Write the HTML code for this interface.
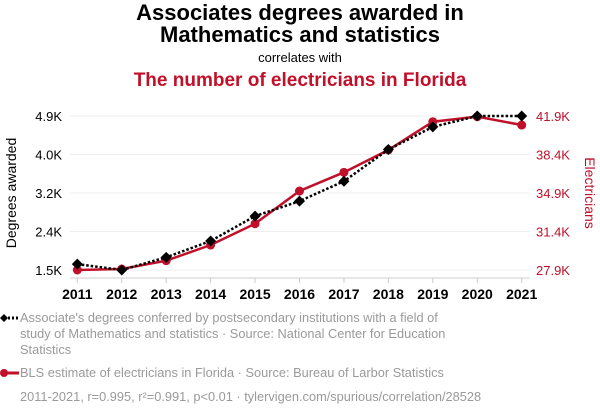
<!DOCTYPE html>
<html><head><meta charset="utf-8"><style>
body{margin:0;width:600px;height:414px;background:#fff;font-family:"Liberation Sans",sans-serif;overflow:hidden;position:relative}
.t{position:absolute;left:0;width:600px;text-align:center}
.leg{position:absolute;left:20px;width:450px;color:#9a9a9a;font-size:12.8px;line-height:16px}
</style></head><body>
<div class="t" style="top:2px;font-size:22px;font-weight:bold;line-height:22px">Associates degrees awarded in<br>Mathematics and statistics</div>
<div class="t" style="top:50px;font-size:13px">correlates with</div>
<div class="t" style="top:70px;font-size:19px;font-weight:bold;color:#c0102a">The number of electricians in Florida</div>
<svg id="c" width="600" height="300" style="position:absolute;left:0;top:0"></svg>
<div class="leg" style="top:310px">Associate's degrees conferred by postsecondary institutions with a field of study of Mathematics and statistics · Source: National Center for Education Statistics</div>
<div class="leg" style="top:365px">BLS estimate of electricians in Florida · Source: Bureau of Larbor Statistics</div>
<div class="leg" style="top:389px;width:560px">2011-2021, r=0.995, r²=0.991, p&lt;0.01 · tylervigen.com/spurious/correlation/28528</div>
<svg width="20" height="80" style="position:absolute;left:0;top:310px">
<line x1="4" y1="8" x2="19" y2="8" stroke="#000" stroke-width="3" stroke-dasharray="2,2"/>
<polygon points="0,8 4,4 8,8 4,12" fill="#000"/>
<line x1="4" y1="63" x2="19" y2="63" stroke="#c0102a" stroke-width="3"/>
<circle cx="4" cy="63" r="4" fill="#c0102a"/>
</svg>
<script>
const years=[2011,2012,2013,2014,2015,2016,2017,2018,2019,2020,2021];
const degrees=[1.63,1.5,1.78,2.14,2.69,3.02,3.46,4.16,4.66,4.9,4.9];
const electricians=[27.9,27.99,28.75,30.17,32.11,35.08,36.78,38.81,41.38,41.84,41.08];
const leftTicks=[1.5,2.35,3.2,4.05,4.9];
const leftLabels=["1.5K","2.4K","3.2K","4.0K","4.9K"];
const rightTicks=[27.9,31.4,34.9,38.4,41.9];
const rightLabels=["27.9K","31.4K","34.9K","38.4K","41.9K"];
const svg=document.getElementById('c');const NS='http://www.w3.org/2000/svg';
const x=y=>77.3+(y-2011)*44.44;
const yl=v=>270-(v-1.5)/3.4*154;
const yr=v=>270-(v-27.9)/14*154;
function mk(t,a){const e=document.createElementNS(NS,t);for(const k in a)e.setAttribute(k,a[k]);svg.appendChild(e);return e;}
leftTicks.forEach((v,i)=>{
const g=mk('line',{x1:70,x2:530,y1:yl(v),y2:yl(v),stroke:'#eee','stroke-width':1});


const t=mk('text',{x:62,y:yl(v)+5,'text-anchor':'end','font-size':13,fill:'#000'});t.textContent=leftLabels[i];


});
rightTicks.forEach((v,i)=>{
const t=mk('text',{x:536,y:yr(v)+5,'font-size':13,fill:'#c0102a'});t.textContent=rightLabels[i];


});
const ax=mk('line',{x1:70,x2:530,y1:278,y2:278,stroke:'#ccc'});


years.forEach(yv=>{
mk('line',{x1:x(yv),x2:x(yv),y1:278,y2:283,stroke:'#ccc'});
const t=mk('text',{x:x(yv),y:299,'text-anchor':'middle','font-size':14,'font-weight':'bold'});t.textContent=yv;


});
const l1=mk('text',{transform:'translate(16,193) rotate(-90)','text-anchor':'middle','font-size':14});l1.textContent='Degrees awarded';


const l2=mk('text',{transform:'translate(585,193) rotate(90)','text-anchor':'middle','font-size':14,fill:'#c0102a'});l2.textContent='Electricians';


const rp=mk('polyline',{points:years.map((yv,i)=>x(yv)+','+yr(electricians[i])).join(' '),fill:'none',stroke:'#c0102a','stroke-width':2.5});


years.forEach((yv,i)=>{const c=mk('circle',{cx:x(yv),cy:yr(electricians[i]),r:4.5,fill:'#c0102a'});

});
const bp=mk('polyline',{points:years.map((yv,i)=>x(yv)+','+yl(degrees[i])).join(' '),fill:'none',stroke:'#000','stroke-width':2.5,'stroke-dasharray':'2.5,2'});


years.forEach((yv,i)=>{const cx=x(yv),cy=yl(degrees[i]);
const p=mk('polygon',{points:`${cx-5.5},${cy} ${cx},${cy-5.5} ${cx+5.5},${cy} ${cx},${cy+5.5}`,fill:'#000'});

});
</script>
</body></html>
